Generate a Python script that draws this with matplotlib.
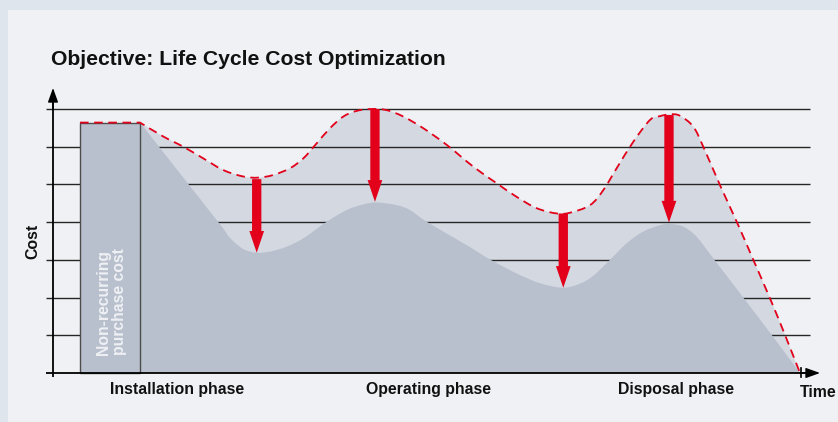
import matplotlib
matplotlib.use("Agg")
import matplotlib.pyplot as plt
from matplotlib.patches import Rectangle, FancyArrowPatch, ArrowStyle, PathPatch
from matplotlib.path import Path

# ---------------- data (time: 0..100, cost levels: 0..7) ----------------
title = "Objective: Life Cycle Cost Optimization"
y_label = "Cost"
x_label = "Time"
bar_label = "Non-recurring\npurchase cost"

# non-recurring purchase cost bar
bar_start, bar_end, bar_height = 3.61, 11.65, 6.64

# total cost without optimisation (dashed red, light fill)
upper_t = [11.65, 14.77, 17.44, 20.12, 22.80, 25.48, 27.44, 29.49, 31.73, 33.51,
           35.30, 37.08, 38.86, 40.66, 42.66, 44.67, 46.89, 49.57, 52.70, 56.27,
           59.40, 62.07, 64.75, 67.43, 69.21, 71.89, 73.67, 75.46, 77.68, 79.92,
           81.26, 82.60, 83.94, 85.72, 87.05, 89.29, 91.53, 93.75, 95.98, 97.99,
           100.0]
upper_c = [6.64, 6.27, 6.00, 5.69, 5.38, 5.21, 5.18, 5.25, 5.43, 5.69,
           6.09, 6.49, 6.80, 6.95, 7.00, 6.97, 6.80, 6.49, 6.05, 5.47,
           5.03, 4.67, 4.37, 4.23, 4.25, 4.45, 4.85, 5.43, 6.13, 6.71,
           6.81, 6.86, 6.82, 6.53, 6.00, 4.98, 4.01, 3.00, 1.98, 1.01,
           0.0]

# optimised cost (dark fill)
lower_t = [11.65, 22.09, 23.56, 25.44, 27.27, 29.05, 31.29, 33.51, 36.64, 39.32,
           41.54, 43.33, 46.01, 47.79, 50.03, 55.38, 58.50, 62.07, 65.19, 68.31,
           70.55, 72.29, 74.56, 76.80, 79.02, 81.26, 82.60, 84.38, 86.17, 88.39,
           92.41, 96.21, 100.0]
lower_c = [6.64, 4.01, 3.61, 3.29, 3.19, 3.22, 3.35, 3.57, 4.01, 4.32,
           4.47, 4.52, 4.45, 4.32, 4.01, 3.39, 3.01, 2.64, 2.38, 2.26,
           2.37, 2.57, 3.00, 3.44, 3.75, 3.92, 3.95, 3.88, 3.61, 3.04,
           2.00, 1.01, 0.0]

# savings arrows
arrow_t = [27.27, 43.10, 68.31, 82.46]
arrow_top = [5.14, 7.00, 4.23, 6.84]
arrow_tip = [3.19, 4.54, 2.26, 3.99]

# phase labels
phase_labels = ["Installation phase", "Operating phase", "Disposal phase"]
phase_pos = [16.6, 50.3, 83.4]

grid_levels = [1, 2, 3, 4, 5, 6, 7]

# ---------------- style ----------------
OUTER = "#dfe5ed"
PANEL = "#eff1f4"
LIGHT = "#d3d8e1"
DARK = "#b9c0cd"
RED = "#e2001a"
INK = "#111111"
FONT = ["Liberation Sans", "DejaVu Sans"]
plt.rcParams["font.family"] = FONT
plt.rcParams["lines.scale_dashes"] = False


def smooth_path(ts, cs, straight=(), start=None):
    """Smooth (Catmull-Rom / cubic Bezier) path through the given points."""
    pts = list(zip(ts, cs))
    verts, codes = [], []
    if start is not None:
        verts += [start, pts[0]]
        codes += [Path.MOVETO, Path.LINETO]
    else:
        verts.append(pts[0])
        codes.append(Path.MOVETO)
    n = len(pts)
    for i in range(n - 1):
        p1, p2 = pts[i], pts[i + 1]
        if i in straight:
            verts.append(p2)
            codes.append(Path.LINETO)
            continue
        p0 = pts[i - 1] if i > 0 else p1
        p3 = pts[i + 2] if i + 2 < n else p2
        c1 = (p1[0] + (p2[0] - p0[0]) / 6.0, p1[1] + (p2[1] - p0[1]) / 6.0)
        c2 = (p2[0] - (p3[0] - p1[0]) / 6.0, p2[1] - (p3[1] - p1[1]) / 6.0)
        verts += [c1, c2, p2]
        codes += [Path.CURVE4] * 3
    return verts, codes


def area_patch(ts, cs, color, z, straight=()):
    v, c = smooth_path(ts, cs, straight)
    v = v + [(ts[-1], 0), (ts[0], 0), (ts[0], 0)]
    c = c + [Path.LINETO, Path.LINETO, Path.CLOSEPOLY]
    return PathPatch(Path(v, c), facecolor=color, edgecolor="none", lw=0, zorder=z)


W, H = 838, 422
fig = plt.figure(figsize=(W / 100, H / 100), dpi=100, facecolor=OUTER)
ax = fig.add_axes([0, 0, 1, 1])
# pixel -> data mapping: t = (px-53)/7.47 ; c = (373-py)/37.714
ax.set_xlim((0 - 53) / 7.47, (W - 53) / 7.47)
ax.set_ylim((373 - H) / 37.714, 373 / 37.714)
ax.axis("off")

ax.add_patch(Rectangle((8 / W, 0), 1, (H - 10) / H, transform=ax.transAxes,
                       facecolor=PANEL, edgecolor="none", zorder=0))

x_left = (46 - 53) / 7.47
x_right = (810 - 53) / 7.47

# light fill (without optimisation)
ax.add_patch(area_patch(upper_t, upper_c, LIGHT, 1))
# grid lines
for g in grid_levels:
    ax.plot([x_left, x_right], [g, g], color="#262626", lw=1.0, zorder=2,
            solid_capstyle="butt")
# dark fill (optimised)
ax.add_patch(area_patch(lower_t, lower_c, DARK, 3, straight=(0, 30, 31)))
# bar
ax.add_patch(Rectangle((bar_start, 0), bar_end - bar_start, bar_height,
                       facecolor=DARK, edgecolor="#4d4d4d", lw=1.0, zorder=3))
ax.text(bar_start + 5.70, 0.477, bar_label, rotation=90, rotation_mode="anchor",
        ha="left", va="baseline", multialignment="left", linespacing=1.13,
        fontsize=11.3, fontweight="bold", color="#eef0f4", zorder=4)

# dashed red line
v, c = smooth_path(upper_t, upper_c, start=(bar_start, bar_height))
ax.add_patch(PathPatch(Path(v, c), facecolor="none", edgecolor=RED, lw=1.3,
                       linestyle=(0, (6.2, 4.0)), zorder=4))

# arrows
for t, top, tip in zip(arrow_t, arrow_top, arrow_tip):
    ax.add_patch(FancyArrowPatch(
        (t, top), (t, tip),
        arrowstyle=ArrowStyle.Simple(head_length=15.6, head_width=10.6, tail_width=6.7),
        mutation_scale=1, shrinkA=0, shrinkB=0, color=RED, lw=0, zorder=5))

# axes
ax.plot([x_left, 101.6], [0, 0], color="black", lw=1.3, zorder=6, solid_capstyle="butt")
ax.plot([0, 0], [-0.1, 7.2], color="black", lw=1.3, zorder=6, solid_capstyle="butt")
ax.add_patch(FancyArrowPatch((0, 7.0), (0, (373 - 88) / 37.714),
             arrowstyle="-|>,head_length=8.6,head_width=3.1", mutation_scale=1,
             shrinkA=0, shrinkB=0, color="black", lw=1.0, zorder=7))
ax.add_patch(FancyArrowPatch((100.0, 0), ((820 - 53) / 7.47, 0),
             arrowstyle="-|>,head_length=8.6,head_width=3.1", mutation_scale=1,
             shrinkA=0, shrinkB=0, color="black", lw=1.0, zorder=7))
ax.plot([100.1, 100.1], [-0.1, 0.13], color="black", lw=1.2, zorder=7)

# texts
ax.text(-0.27, 8.167, title, ha="left", va="baseline", fontsize=15.2,
        fontweight="bold", color=INK)
ax.text(-2.10, 3.50, y_label, rotation=90, rotation_mode="anchor", ha="center",
        va="baseline", fontsize=11.4, fontweight="bold", color=INK)
for lab, pos in zip(phase_labels, phase_pos):
    ax.text(pos, -0.565, lab, ha="center", va="baseline", fontsize=11.4,
            fontweight="bold", color=INK)
ax.text((837 - 53) / 7.47, -0.628, x_label, ha="right", va="baseline", fontsize=11.4,
        fontweight="bold", color=INK)

fig.savefig("out.png", dpi=100, facecolor=OUTER)
